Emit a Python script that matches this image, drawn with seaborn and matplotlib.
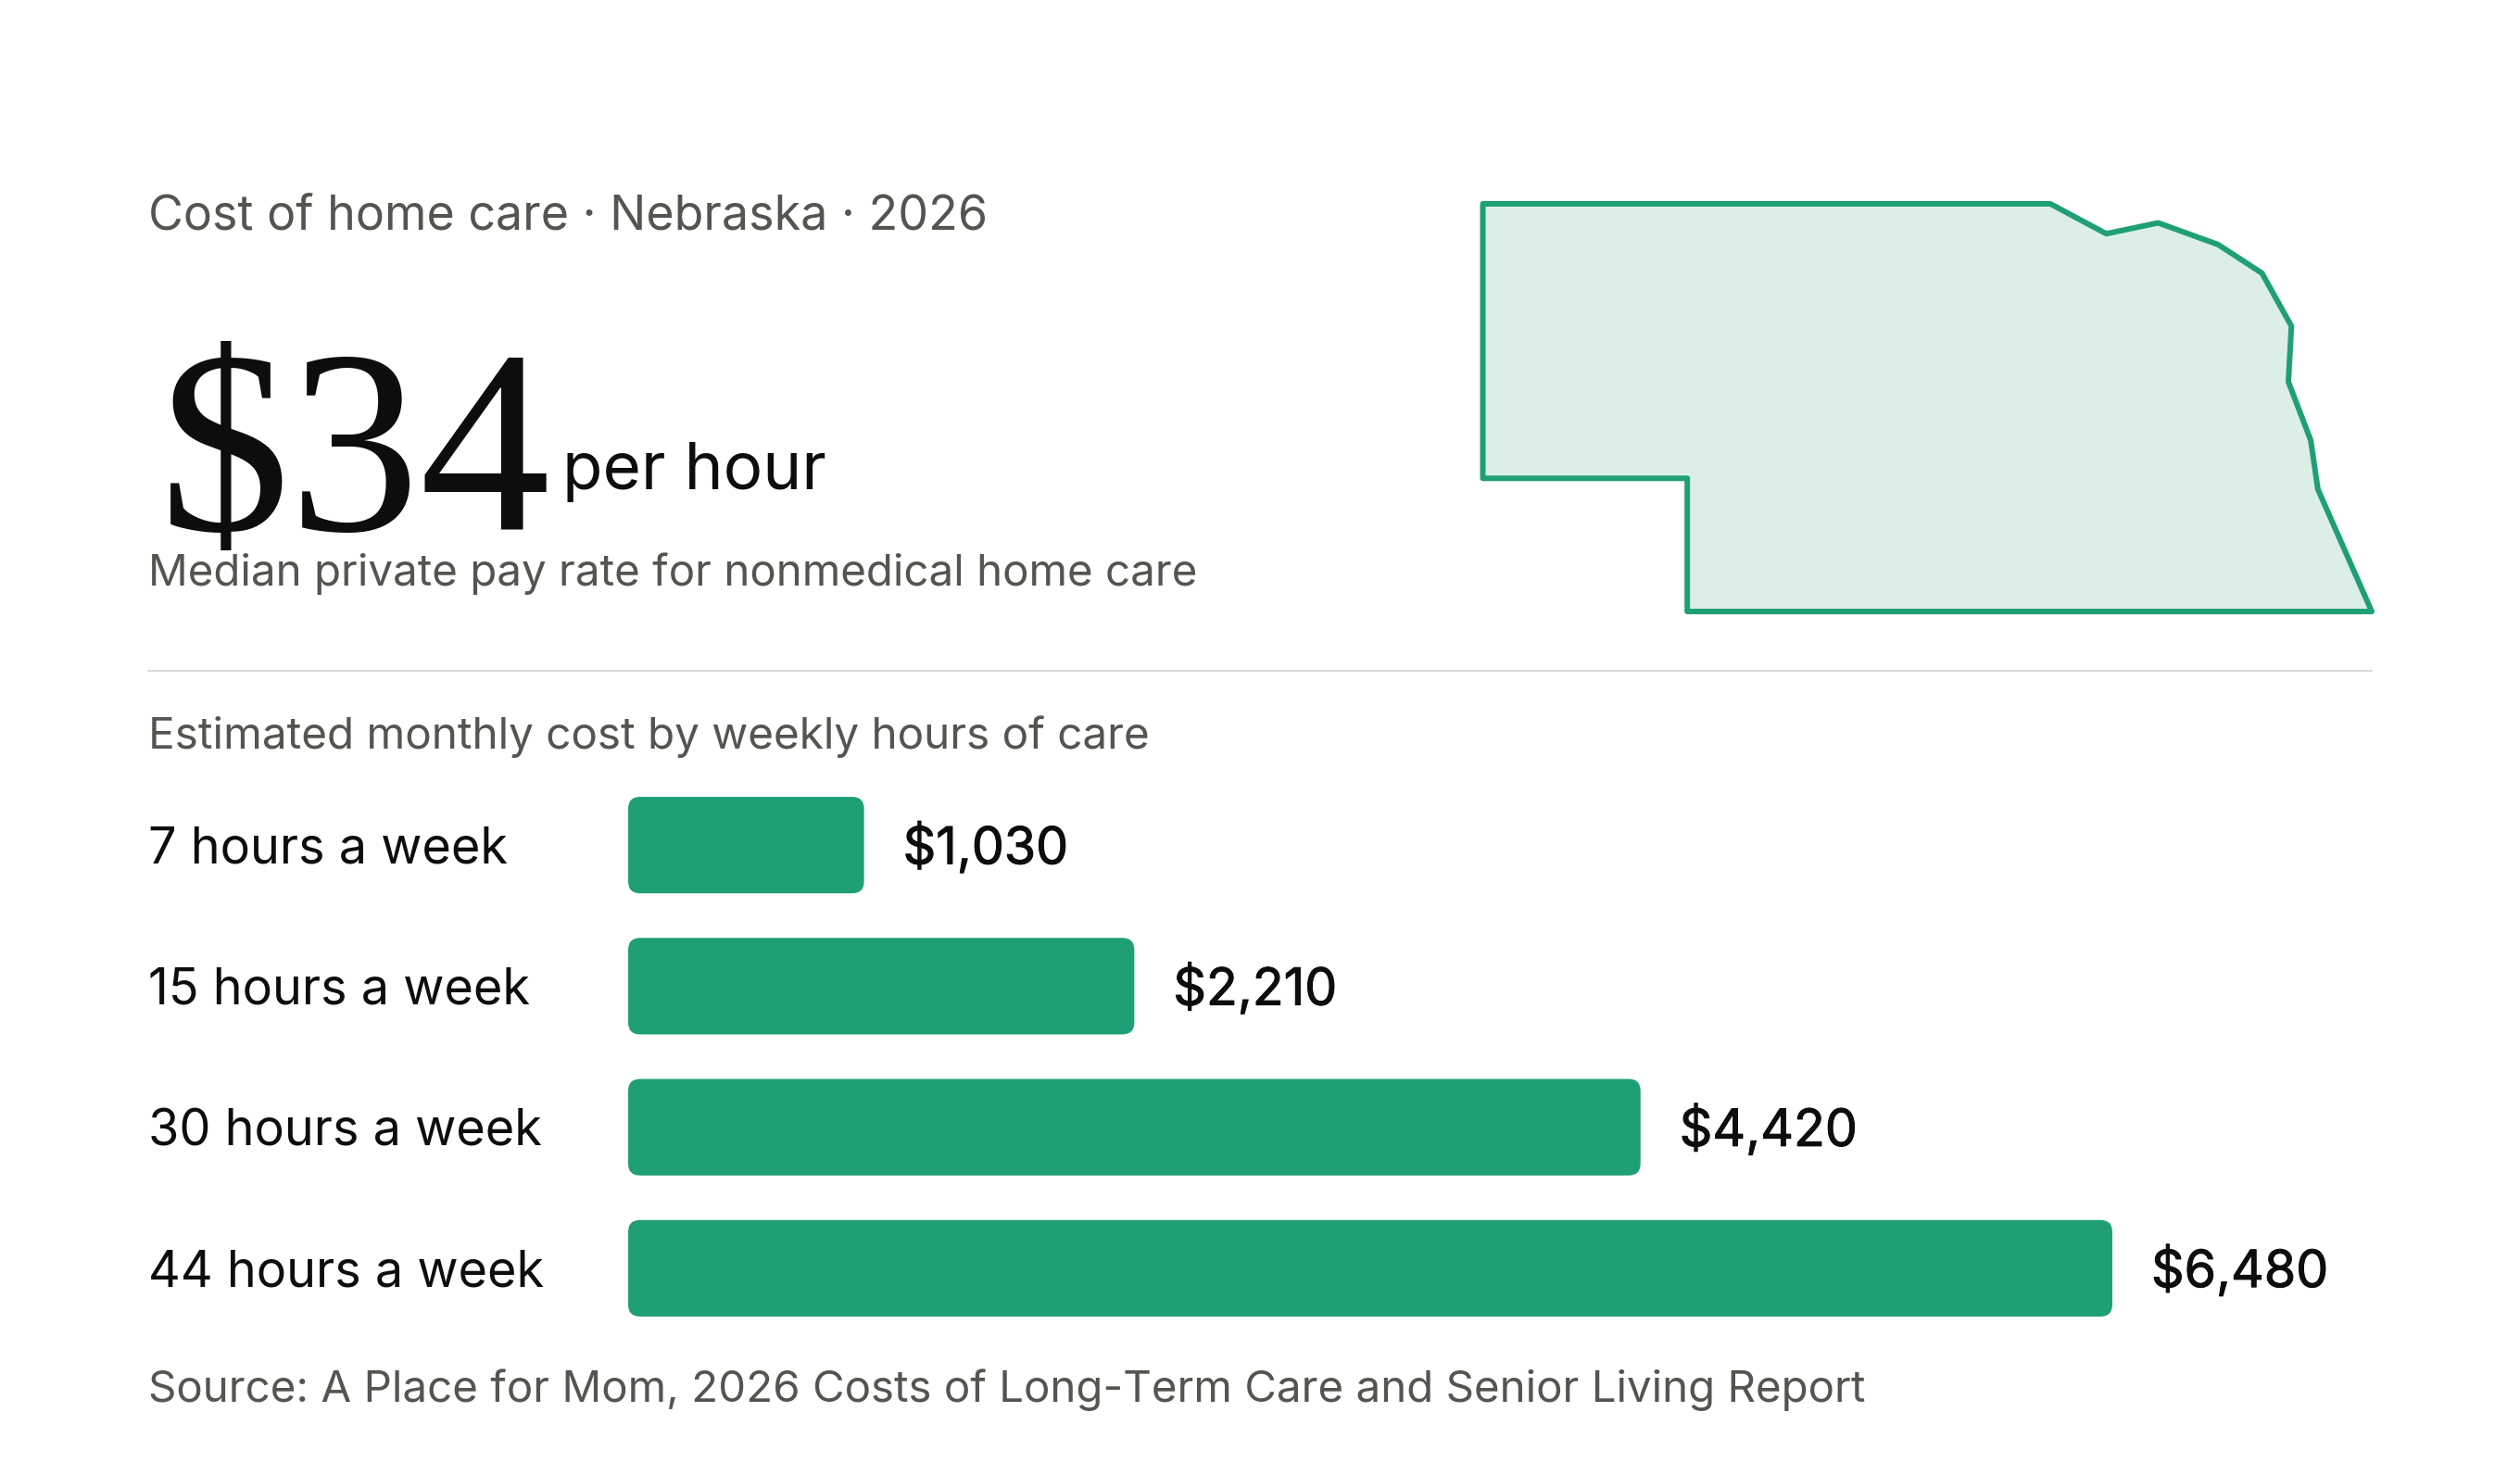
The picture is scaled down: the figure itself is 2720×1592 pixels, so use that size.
import matplotlib
matplotlib.use("Agg")
import matplotlib.pyplot as plt
import matplotlib.patheffects as pe
import seaborn as sns
import pandas as pd
from matplotlib.patches import FancyBboxPatch

W, H, DPI = 2720, 1592, 200

kicker = "Cost of home care · Nebraska · 2026"
big_value = "$34"
big_unit = "per hour"
big_note = "Median private pay rate for nonmedical home care"
section_title = "Estimated monthly cost by weekly hours of care"
source = "Source: A Place for Mom, 2026 Costs of Long-Term Care and Senior Living Report"

care_labels = ["7 hours a week", "15 hours a week", "30 hours a week", "44 hours a week"]
monthly_cost = [1030, 2210, 4420, 6480]
cost_labels = ["$1,030", "$2,210", "$4,420", "$6,480"]

map_lon = [-104.05, -98.47, -97.92, -97.41, -96.82, -96.39, -96.10, -96.13,
           -95.91, -95.84, -95.31, -102.04, -102.04, -104.05]
map_lat = [43.00, 43.00, 42.78, 42.86, 42.70, 42.49, 42.10, 41.69,
           41.26, 40.90, 40.00, 40.00, 40.98, 40.98]

GREEN = "#1F9F75"
TINT = "#DBEFE7"
GREY = "#55554F"
INK = "#0D0D0D"

sns.set_theme(style="white")
plt.rcParams["font.family"] = ["Inter", "DejaVu Sans"]


def pt(px):
    return px * 72 / DPI


def axes_px(fig, x0, y0, x1, y1):
    return fig.add_axes([x0 / W, 1 - y1 / H, (x1 - x0) / W, (y1 - y0) / H])


fig = plt.figure(figsize=(W / DPI, H / DPI), dpi=DPI, facecolor="white")

# Page layer for free text, in pixel units
page = axes_px(fig, 0, 0, W, H)
page.set_xlim(0, W)
page.set_ylim(H, 0)
page.axis("off")

page.text(160, 248, kicker, fontsize=pt(52), color=GREY, va="baseline", ha="left")
page.text(172, 572, big_value, fontsize=pt(282), color=INK, va="baseline", ha="left",
          family=["Liberation Serif"])
page.text(607, 528, big_unit, fontsize=pt(71), color=INK, va="baseline", ha="left")
page.text(160, 632, big_note, fontsize=pt(47.5), color=GREY, va="baseline", ha="left")
page.plot([160, 2560], [724, 724], color="#D9D9D9", lw=pt(2))
page.text(160, 808, section_title, fontsize=pt(47.7), color=GREY, va="baseline", ha="left")
page.text(160, 1513, source, fontsize=pt(47.5), color=GREY, va="baseline", ha="left")

# Map
ax_map = axes_px(fig, 1600.5, 220, 2560, 660)
ax_map.fill(map_lon, map_lat, facecolor=TINT, edgecolor=GREEN, lw=pt(6),
            joinstyle="round", clip_on=False)
ax_map.set_xlim(-104.05, -95.31)
ax_map.set_ylim(40, 43)
ax_map.axis("off")

# Bars
ax = axes_px(fig, 678, 836, 2560, 1445)
df = pd.DataFrame({"care": care_labels, "cost": monthly_cost})
sns.barplot(data=df, y="care", x="cost", color=GREEN, saturation=1, width=104 / 152, ax=ax)
ax.set_xlim(0, 6480 * 1882 / 1602)
ax.set_ylim(3.5, -0.5)
ax.set_xlabel("")
ax.set_ylabel("")
ax.set_xticks([])
sns.despine(ax=ax, left=True, bottom=True)
ax.patch.set_alpha(0)

# Category labels sit a little under the bar centre
y_per_px = 4 / 609
x_per_px = ax.get_xlim()[1] / 1882
ax.set_yticks([i + 5 * y_per_px for i in range(len(care_labels))], labels=care_labels)
ax.tick_params(axis="y", length=0, pad=pt(518))
for lab in ax.get_yticklabels():
    lab.set_ha("left")
    lab.set_fontsize(pt(54))
    lab.set_color(INK)
    lab.set_va("center")

labels = ax.bar_label(ax.containers[0], labels=cost_labels, padding=pt(42),
                      fontsize=pt(55.5), color=INK)
for t in labels:
    t.xyann = (pt(42), -pt(3))
    t.set_path_effects([pe.withStroke(linewidth=0.35, foreground=INK)])

# Round the corners of the seaborn bars
radius_px = 13
for bar in list(ax.patches):
    ax.add_patch(FancyBboxPatch(
        (bar.get_x(), bar.get_y()), bar.get_width(), bar.get_height(),
        boxstyle=f"round,pad=0,rounding_size={radius_px * x_per_px}",
        mutation_aspect=y_per_px / x_per_px, transform=ax.transData,
        facecolor=GREEN, edgecolor="none", linewidth=0,
    ))
    bar.set_visible(False)

fig.savefig("out.png", dpi=DPI, facecolor="white")
